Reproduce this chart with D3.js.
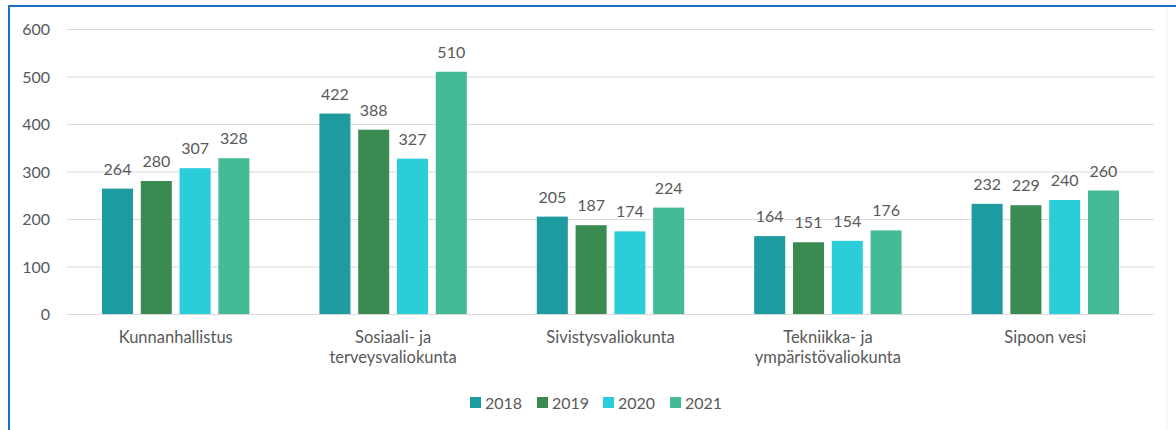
<!DOCTYPE html>
<html>
<head>
<meta charset="utf-8">
<script src="https://cdn.jsdelivr.net/npm/d3@7"></script>
<style>
  body { margin: 0; background: #fff; }
  svg text { font-family: Lato, "Open Sans", sans-serif; fill: #595959; }
</style>
</head>
<body>
<script>
var categories = [
  ['Kunnanhallistus'],
  ['Sosiaali- ja', 'terveysvaliokunta'],
  ['Sivistysvaliokunta'],
  ['Tekniikka- ja', 'ympäristövaliokunta'],
  ['Sipoon vesi']
];
var years = ['2018', '2019', '2020', '2021'];
var v2018 = [264, 422, 205, 164, 232];
var v2019 = [280, 388, 187, 151, 229];
var v2020 = [307, 327, 174, 154, 240];
var v2021 = [328, 510, 224, 176, 260];
var yTicks = [0, 100, 200, 300, 400, 500, 600];
var colors = ['#1e9ba1', '#3b8a52', '#2bcdd9', '#44ba96'];

var series = [v2018, v2019, v2020, v2021];
var w = 1176, h = 430;

var svg = d3.select('body').append('svg')
  .attr('width', w)
  .attr('height', h);

// frame
svg.append('rect')
  .attr('x', 9).attr('y', 6)
  .attr('width', 1158).attr('height', 440)
  .attr('fill', 'none')
  .attr('stroke', '#e3f4f8')
  .attr('stroke-width', 1);
svg.append('line').attr('x1', 8).attr('x2', w).attr('y1', 6).attr('y2', 6)
  .attr('stroke', '#1a6fbf').attr('stroke-width', 2);
svg.append('line').attr('x1', 9).attr('x2', 9).attr('y1', 5).attr('y2', h)
  .attr('stroke', '#1a6fbf').attr('stroke-width', 2);

var left = 67, right = 1154;
var y = d3.scaleLinear().domain([0, 600]).range([314, 29]);
var x0 = d3.scaleBand().domain(d3.range(categories.length)).range([left, right]).paddingInner(0).paddingOuter(0);
var x1 = d3.scaleBand().domain(years).range([35, x0.bandwidth() - 35]).paddingInner(0.2);

// gridlines
svg.append('g').selectAll('line')
  .data(yTicks)
  .enter().append('line')
    .attr('x1', left).attr('x2', right)
    .attr('y1', d => y(d) + 0.5).attr('y2', d => y(d) + 0.5)
    .attr('stroke', '#d9d9d9')
    .attr('stroke-width', 1);

// y labels
svg.append('g').selectAll('text')
  .data(yTicks)
  .enter().append('text')
    .attr('x', 50)
    .attr('y', d => y(d) + 6)
    .attr('text-anchor', 'end')
    .attr('font-size', '16px')
    .text(d => d);

// bars
var groups = svg.append('g').selectAll('g')
  .data(categories)
  .enter().append('g')
    .attr('transform', (d, i) => 'translate(' + x0(i) + ',0)');

groups.each(function(c, ci) {
  var g = d3.select(this);
  years.forEach(function(yr, si) {
    var v = series[si][ci];
    g.append('rect')
      .attr('x', x1(yr))
      .attr('y', y(v))
      .attr('width', x1.bandwidth())
      .attr('height', y(0) - y(v))
      .attr('fill', colors[si]);
    g.append('text')
      .attr('x', x1(yr) + x1.bandwidth() / 2)
      .attr('y', y(v) - 14)
      .attr('text-anchor', 'middle')
      .attr('font-size', '16px')
      .attr('fill', '#404040')
      .text(v);
  });
  var t = g.append('text')
    .attr('x', x0.bandwidth() / 2)
    .attr('y', 343)
    .attr('text-anchor', 'middle')
    .attr('font-size', '16.5px');
  c.forEach(function(line, li) {
    t.append('tspan')
      .attr('x', x0.bandwidth() / 2)
      .attr('dy', li === 0 ? 0 : 20)
      .text(line);
  });
});

// legend
var legendX = [470, 537, 603, 670];
var legend = svg.append('g').selectAll('g')
  .data(years)
  .enter().append('g')
    .attr('transform', (d, i) => 'translate(' + legendX[i] + ',397)');
legend.append('rect')
  .attr('width', 11).attr('height', 11)
  .attr('fill', (d, i) => colors[i]);
legend.append('text')
  .attr('x', 15).attr('y', 12)
  .attr('font-size', '16px')
  .text(d => d);
</script>
</body>
</html>
